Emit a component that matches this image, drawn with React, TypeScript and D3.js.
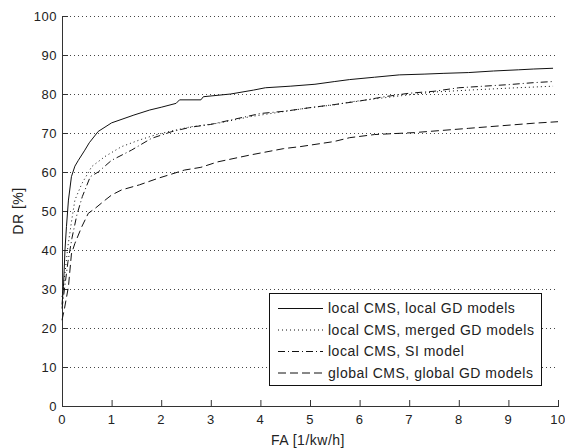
import React, { useEffect, useRef } from 'react';
import * as d3 from 'd3';

// FA [1/kw/h] vs DR [%] for each model set
const faLocal = [0, 0.03, 0.06, 0.09, 0.13, 0.19, 0.26, 0.33, 0.46, 0.55, 0.73, 1.0, 1.45, 1.77, 2.0, 2.3, 2.37, 2.8, 2.85, 3.4, 3.86, 4.1, 4.6, 5.1, 5.5, 5.8, 6.3, 6.8, 7.3, 7.7, 8.2, 8.7, 9.2, 9.5, 9.9];
const drLocal = [26, 30.6, 40, 46, 52.8, 58.8, 61.5, 63, 65.6, 67.5, 70.4, 72.6, 74.6, 75.9, 76.6, 77.6, 78.5, 78.5, 79.3, 80, 81, 81.6, 82, 82.5, 83.2, 83.7, 84.3, 84.9, 85.1, 85.3, 85.5, 85.9, 86.2, 86.4, 86.6];

const faMerged = [0, 0.05, 0.12, 0.2, 0.26, 0.4, 0.6, 0.87, 1.2, 1.56, 1.88, 2.2, 2.6, 3.14, 3.8, 4.47, 5.0, 5.48, 5.83, 6.8, 7.5, 8.2, 9.0, 9.9];
const drMerged = [28, 33, 41, 48, 52.8, 57, 61.4, 64, 66.5, 68.2, 69.5, 70.5, 71.6, 72.5, 74.2, 75.5, 76.5, 77.2, 78, 79.5, 80.5, 81, 81.5, 82];

const faSI = [0, 0.05, 0.12, 0.2, 0.3, 0.41, 0.57, 0.73, 1.0, 1.4, 1.8, 2.2, 2.6, 3.0, 3.5, 4.0, 4.5, 5.0, 5.5, 6.0, 6.5, 7.0, 7.5, 8.0, 8.5, 9.0, 9.5, 9.9];
const drSI = [25, 30, 37, 43, 49, 53.7, 58.8, 60, 63, 65.6, 68.6, 70.3, 71.5, 72.2, 73.6, 75, 75.6, 76.5, 77.3, 78.2, 79.3, 80.2, 80.7, 81.6, 82, 82.4, 82.9, 83.2];

const faGlobal = [0, 0.05, 0.13, 0.19, 0.26, 0.4, 0.53, 0.67, 0.87, 1.0, 1.2, 1.56, 1.94, 2.47, 2.8, 3.14, 3.81, 4.47, 4.8, 5.48, 5.8, 6.3, 7.1, 7.6, 8.2, 8.8, 9.5, 10];
const drGlobal = [22, 25, 30.6, 39, 41.7, 46, 49.4, 50.7, 52.8, 54.1, 55.4, 56.7, 58.4, 60.5, 61.2, 62.6, 64.4, 66, 66.5, 67.8, 68.8, 69.6, 70.1, 70.6, 71.2, 71.8, 72.5, 72.9];

const legendLabels = [
  'local CMS, local GD models',
  'local CMS, merged GD models',
  'local CMS, SI model',
  'global CMS, global GD models'
];
const dashes = [null, '1,3', '7,3,1,3', '8,4'];

const xTicks = [0, 1, 2, 3, 4, 5, 6, 7, 8, 9, 10];
const yTicks = [0, 10, 20, 30, 40, 50, 60, 70, 80, 90, 100];

const FONT = 'Arial, "Liberation Sans", sans-serif';

const App = () => {
  const svgRef = useRef(null);
  const width = 565;
  const height = 448;

  useEffect(() => {
    const svg = d3.select(svgRef.current);
    svg.selectAll('*').remove();

    const x = d3.scaleLinear().domain([0, 10]).range([62, 558]);
    const y = d3.scaleLinear().domain([0, 100]).range([406, 16]);

    // 网格线 (dotted, horizontal only)
    yTicks.filter(t => t > 0).forEach(t => {
      svg.append('line')
        .attr('x1', x(0)).attr('x2', x(10))
        .attr('y1', y(t) + 0.5).attr('y2', y(t) + 0.5)
        .attr('stroke', '#444')
        .attr('stroke-dasharray', '1,3');
    });

    // axes
    svg.append('line')
      .attr('x1', x(0) + 0.5).attr('x2', x(0) + 0.5)
      .attr('y1', y(0)).attr('y2', y(100))
      .attr('stroke', '#333');
    svg.append('line')
      .attr('x1', x(0)).attr('x2', x(10) + 1)
      .attr('y1', y(0) + 0.5).attr('y2', y(0) + 0.5)
      .attr('stroke', '#333');

    yTicks.forEach(t => {
      svg.append('line')
        .attr('x1', x(0)).attr('x2', x(0) + 6)
        .attr('y1', y(t) + 0.5).attr('y2', y(t) + 0.5)
        .attr('stroke', '#333');
      svg.append('text')
        .attr('x', x(0) - 5)
        .attr('y', y(t))
        .attr('text-anchor', 'end')
        .attr('dominant-baseline', 'central')
        .attr('font-family', FONT)
        .attr('font-size', 13)
        .attr('letter-spacing', 0.5)
        .attr('fill', '#222')
        .text(t);
    });

    xTicks.forEach(t => {
      svg.append('line')
        .attr('x1', x(t) + 0.5).attr('x2', x(t) + 0.5)
        .attr('y1', y(0)).attr('y2', y(0) - 6)
        .attr('stroke', '#333');
      svg.append('text')
        .attr('x', x(t))
        .attr('y', y(0) + 13)
        .attr('text-anchor', 'middle')
        .attr('dominant-baseline', 'central')
        .attr('font-family', FONT)
        .attr('font-size', 13)
        .attr('letter-spacing', 0.5)
        .attr('fill', '#222')
        .text(t);
    });

    // axis labels
    svg.append('text')
      .attr('x', 308).attr('y', 440)
      .attr('text-anchor', 'middle')
      .attr('dominant-baseline', 'central')
      .attr('font-family', FONT)
      .attr('font-size', 14)
      .attr('letter-spacing', 0.5)
      .attr('fill', '#222')
      .text('FA [1/kw/h]');
    svg.append('text')
      .attr('transform', 'translate(18,211) rotate(-90)')
      .attr('text-anchor', 'middle')
      .attr('dominant-baseline', 'central')
      .attr('font-family', FONT)
      .attr('font-size', 14)
      .attr('letter-spacing', 0.5)
      .attr('fill', '#222')
      .text('DR [%]');

    // curves
    const series = [
      [faLocal, drLocal],
      [faMerged, drMerged],
      [faSI, drSI],
      [faGlobal, drGlobal]
    ];
    const line = d3.line<number[]>()
      .x(d => x(d[0]))
      .y(d => y(d[1]));

    series.forEach(([fa, dr], i) => {
      const pts = fa.map((f, j) => [f, dr[j]]);
      svg.append('path')
        .attr('d', line(pts))
        .attr('fill', 'none')
        .attr('stroke', '#111')
        .attr('stroke-width', 1)
        .attr('stroke-dasharray', dashes[i]);
    });

    // legend
    const lg = svg.append('g');
    lg.append('rect')
      .attr('x', 269.5).attr('y', 293.5)
      .attr('width', 272).attr('height', 92)
      .attr('fill', '#fff')
      .attr('stroke', '#111');
    legendLabels.forEach((label, i) => {
      const ly = 308 + i * 21.5;
      lg.append('line')
        .attr('x1', 278).attr('x2', 323)
        .attr('y1', ly + 0.5).attr('y2', ly + 0.5)
        .attr('stroke', '#111')
        .attr('stroke-dasharray', dashes[i]);
      lg.append('text')
        .attr('x', 328).attr('y', ly)
        .attr('dominant-baseline', 'central')
        .attr('font-family', FONT)
        .attr('font-size', 14)
        .attr('letter-spacing', 0.5)
        .attr('fill', '#222')
        .text(label);
    });
  }, []);

  return (
    <svg
      ref={svgRef}
      width={width}
      height={height}
      style={{ position: 'absolute', left: 0, top: 0, background: '#fff' }}
    />
  );
};

export default App;
